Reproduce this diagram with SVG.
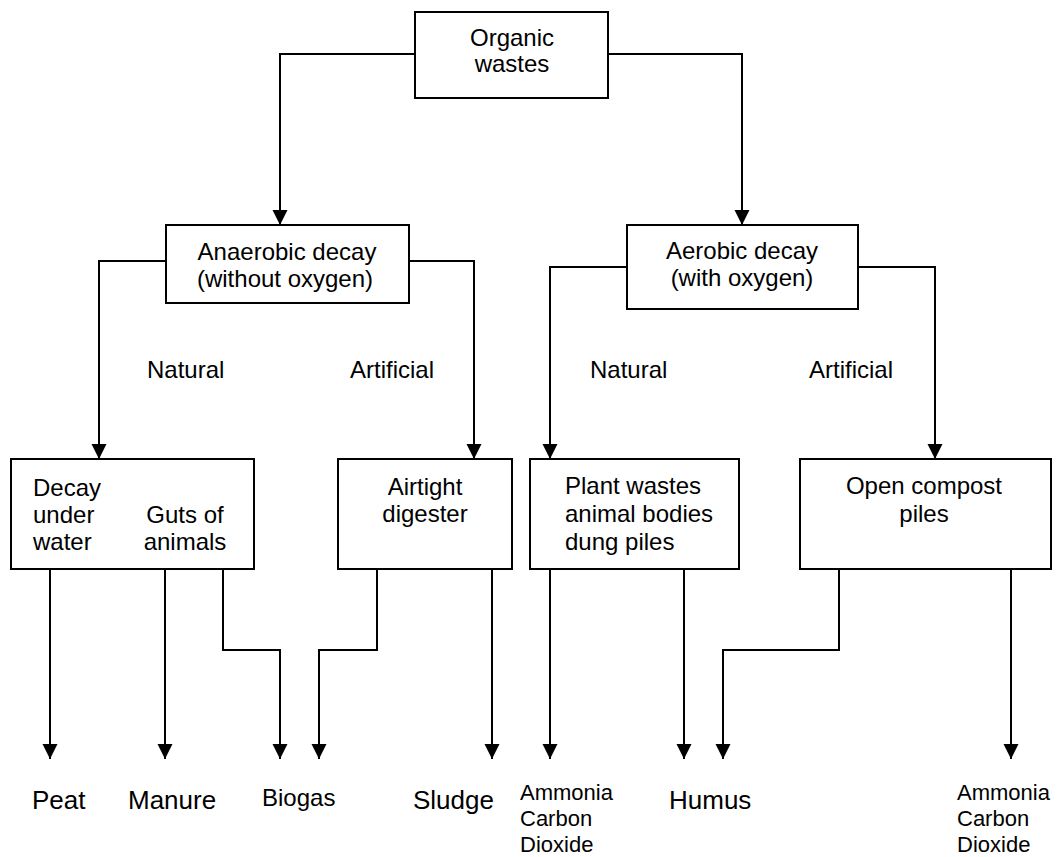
<svg xmlns="http://www.w3.org/2000/svg" width="1059" height="857" viewBox="0 0 1059 857">
<style>
.box{fill:#fff;stroke:#000;stroke-width:2}
.t{font-family:"Liberation Sans",Arial,sans-serif;font-size:24px;fill:#000}
.c{text-anchor:middle}
.big{font-size:26px}
.sm{font-size:22px}
.con{fill:none;stroke:#000;stroke-width:2}
</style>
<defs>
<marker id="ah" markerUnits="userSpaceOnUse" markerWidth="16" markerHeight="16" refX="15" refY="7.5" orient="auto">
<path d="M0,0 L15,7.5 L0,15 z" fill="#000"/>
</marker>
</defs>
<rect width="1059" height="857" fill="#fff"/>
<g id="connectors">
<path class="con" d="M415,54 H280 V225" marker-end="url(#ah)"/>
<path class="con" d="M608,54 H742 V225" marker-end="url(#ah)"/>
<path class="con" d="M166,261 H99 V459" marker-end="url(#ah)"/>
<path class="con" d="M409,261 H474 V459" marker-end="url(#ah)"/>
<path class="con" d="M627,267 H550 V459" marker-end="url(#ah)"/>
<path class="con" d="M858,267 H935 V459" marker-end="url(#ah)"/>
<path class="con" d="M50,569 V759" marker-end="url(#ah)"/>
<path class="con" d="M165,569 V759" marker-end="url(#ah)"/>
<path class="con" d="M223,569 V650 H280 V759" marker-end="url(#ah)"/>
<path class="con" d="M377,569 V650 H319 V759" marker-end="url(#ah)"/>
<path class="con" d="M492,569 V759" marker-end="url(#ah)"/>
<path class="con" d="M550,569 V759" marker-end="url(#ah)"/>
<path class="con" d="M684,569 V759" marker-end="url(#ah)"/>
<path class="con" d="M839,569 V650 H723 V759" marker-end="url(#ah)"/>
<path class="con" d="M1011,569 V759" marker-end="url(#ah)"/>
</g>
<g id="organic">
<rect class="box" x="415" y="12" width="193" height="86"/>
<text class="t c" x="512" y="46">Organic</text>
<text class="t c" x="512" y="72">wastes</text>
</g>
<g id="anaerobic">
<rect class="box" x="166" y="225" width="243" height="78"/>
<text class="t c" x="287" y="260">Anaerobic decay</text>
<text class="t c" x="285" y="287">(without oxygen)</text>
</g>
<g id="aerobic">
<rect class="box" x="627" y="225" width="231" height="84"/>
<text class="t c" x="742" y="259">Aerobic decay</text>
<text class="t c" x="742" y="286">(with oxygen)</text>
</g>
<g id="label-natural-1"><text class="t" x="147" y="378">Natural</text></g>
<g id="label-artificial-1"><text class="t" x="350" y="378">Artificial</text></g>
<g id="label-natural-2"><text class="t" x="590" y="378">Natural</text></g>
<g id="label-artificial-2"><text class="t" x="809" y="378">Artificial</text></g>
<g id="natural-anaerobic">
<rect class="box" x="11" y="459" width="243" height="110"/>
<text class="t" x="33" y="496">Decay</text>
<text class="t" x="33" y="523">under</text>
<text class="t" x="33" y="550">water</text>
<text class="t c" x="185" y="523">Guts of</text>
<text class="t c" x="185" y="550">animals</text>
</g>
<g id="airtight">
<rect class="box" x="338" y="459" width="174" height="110"/>
<text class="t c" x="425" y="495">Airtight</text>
<text class="t c" x="425" y="522">digester</text>
</g>
<g id="plant-wastes">
<rect class="box" x="530" y="459" width="209" height="110"/>
<text class="t" x="565" y="494">Plant wastes</text>
<text class="t" x="565" y="522">animal bodies</text>
<text class="t" x="565" y="550">dung piles</text>
</g>
<g id="compost">
<rect class="box" x="800" y="459" width="251" height="110"/>
<text class="t c" x="924" y="494">Open compost</text>
<text class="t c" x="924" y="522">piles</text>
</g>
<g id="peat"><text class="t big" x="32" y="809">Peat</text></g>
<g id="manure"><text class="t big" x="128" y="809">Manure</text></g>
<g id="biogas"><text class="t" x="262" y="806">Biogas</text></g>
<g id="sludge"><text class="t big" x="413" y="809">Sludge</text></g>
<g id="ammonia-1">
<text class="t sm" x="520" y="800">Ammonia</text>
<text class="t sm" x="520" y="826">Carbon</text>
<text class="t sm" x="520" y="852">Dioxide</text>
</g>
<g id="humus"><text class="t big" x="669" y="809">Humus</text></g>
<g id="ammonia-2">
<text class="t sm" x="957" y="800">Ammonia</text>
<text class="t sm" x="957" y="826">Carbon</text>
<text class="t sm" x="957" y="852">Dioxide</text>
</g>
</svg>
